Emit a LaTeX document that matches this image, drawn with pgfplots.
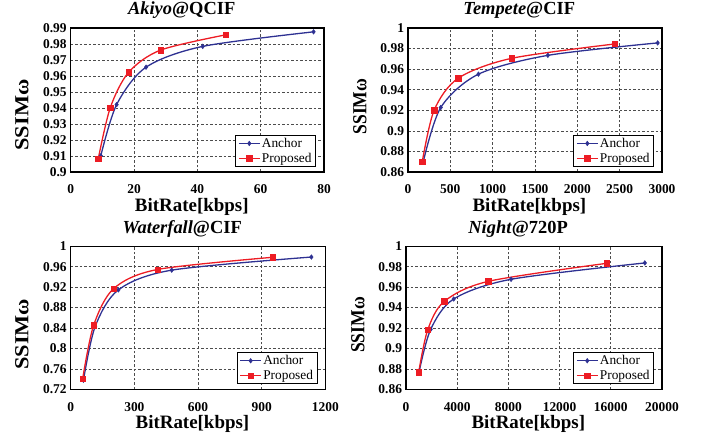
\documentclass[border=0pt]{standalone}
\usepackage{fontspec}
\setmainfont{Liberation Serif}
\usepackage{graphicx}
\usepackage{pgfplots}
\pgfplotsset{compat=1.18}
\definecolor{anc}{RGB}{46,49,146}
\definecolor{pro}{RGB}{237,28,36}
\pgfplotsset{
  myax/.style={
    scale only axis, anchor=south west,
    grid=major,
    major grid style={dash pattern=on 2.5bp off 2bp, line width=0.7bp, color=black!70},
    axis line style={line width=1.3bp},
    major tick length=0,
    tick label style={font=\fontsize{13.5}{15}\selectfont\bfseries},
    /pgf/number format/assume math mode=true,
    /pgf/number format/1000 sep={},
    scaled ticks=false,
    yticklabel style={/pgf/number format/fixed, /pgf/number format/precision=2, xshift=-0.5bp},
    xticklabel style={anchor=base, yshift=-22bp},
    title style={at={(axis description cs:0.438,1)}, anchor=base, yshift=7.3bp, font=\fontsize{18.5}{20}\selectfont\bfseries},
    xlabel style={at={(axis description cs:0.478,0)}, anchor=base, yshift=-39.5bp, font=\fontsize{19}{21}\selectfont\bfseries},
    ylabel style={anchor=base, font=\fontsize{20}{22}\selectfont\bfseries},
    xlabel={BitRate[kbps]},
    legend style={at={(axis description cs:1,0)}, anchor=south east, xshift=-8bp, yshift=5bp,
      draw=black, line width=0.8bp, fill=white, font=\fontsize{13.4}{14}\selectfont,
      inner xsep=2.5bp, inner ysep=1bp, row sep=0bp,
      nodes={inner xsep=1.5bp, inner ysep=2bp}},
    legend cell align=left,
    legend image code/.code={\draw[mark repeat=2,mark phase=2] plot coordinates {(0bp,0bp)(10.5bp,0bp)(21bp,0bp)};},
  },
  ancst/.style={color=anc, line width=1.3bp, smooth, tension=0.5, mark=diamond*, mark size=2.3bp, mark options={fill=anc, line width=0.5bp}},
  prost/.style={color=pro, line width=1.3bp, smooth, tension=0.5, mark=square*, mark size=2.7bp, mark options={fill=pro, line width=0.5bp}},
}
\begin{document}
\begin{tikzpicture}
\useasboundingbox (0,0) rectangle (706bp,438bp);
% Panel 1
\begin{axis}[myax, at={(70.7bp,266bp)}, width=253.3bp, height=144bp,
  xmin=0, xmax=80, xtick={0,20,40,60,80},
  ymin=0.9, ymax=0.99, ytick={0.9,0.91,0.92,0.93,0.94,0.95,0.96,0.97,0.98,0.99},
  title={\textit{Akiyo}@QCIF},
  ylabel={\scalebox{1.12}[1]{SSIMω}},
  ylabel style={at={([xshift=-42.4bp]axis description cs:0,0.396)}}]
\addplot[ancst] coordinates {(9.5,0.9101) (14.5,0.9421) (23.8,0.9655) (41.7,0.9785) (76.7,0.9876)};
\addplot[prost] coordinates {(8.7,0.9082) (12.5,0.9402) (18.3,0.9623) (28.4,0.9762) (48.9,0.9857)};
\legend{Anchor,Proposed}
\end{axis}
% Panel 2
\begin{axis}[myax, at={(408bp,266bp)}, width=254bp, height=144bp,
  xmin=0, xmax=3000, xtick={0,500,1000,1500,2000,2500,3000},
  ymin=0.86, ymax=1, ytick={0.86,0.88,0.9,0.92,0.94,0.96,0.98,1},
  title={\textit{Tempete}@CIF},
  ylabel={\scalebox{0.88}[1]{SSIMω}},
  ylabel style={at={([xshift=-41.7bp]axis description cs:0,0.455)}}]
\addplot[ancst] coordinates {(180,0.8700) (387,0.9227) (832,0.9551) (1652,0.9734) (2949,0.9855)};
\addplot[prost] coordinates {(168,0.8698) (309,0.9201) (594,0.9512) (1223,0.9705) (2445,0.9845)};
\legend{Anchor,Proposed}
\end{axis}
% Panel 3
\begin{axis}[myax, at={(70.7bp,48.7bp)}, width=254.7bp, height=143bp,
  xmin=0, xmax=1200, xtick={0,300,600,900,1200},
  ymin=0.72, ymax=1, ytick={0.72,0.76,0.8,0.84,0.88,0.92,0.96,1},
  title={\textit{Waterfall}@CIF},
  ylabel={\scalebox{1.12}[1]{SSIMω}},
  ylabel style={at={([xshift=-42.4bp]axis description cs:0,0.385)}}]
\addplot[ancst] coordinates {(60,0.7377) (115,0.8426) (225,0.9148) (476,0.9533) (1134,0.9790)};
\addplot[prost] coordinates {(56.5,0.7410) (108,0.8452) (203,0.9174) (409,0.9546) (952,0.9785)};
\legend{Anchor,Proposed}
\end{axis}
% Panel 4
\begin{axis}[myax, at={(406bp,48.7bp)}, width=256bp, height=143bp,
  xmin=0, xmax=20000, xtick={0,4000,8000,12000,16000,20000},
  ymin=0.86, ymax=1, ytick={0.86,0.88,0.9,0.92,0.94,0.96,0.98,1},
  title={\textit{Night}@720P},
  ylabel={\scalebox{0.88}[1]{SSIMω}},
  ylabel style={at={([xshift=-41.7bp]axis description cs:0,0.45)}}]
\addplot[ancst] coordinates {(1040,0.8780) (1928,0.9187) (3726,0.9484) (8208,0.9677) (18657,0.9837)};
\addplot[prost] coordinates {(990,0.8766) (1694,0.9181) (2997,0.9461) (6436,0.9657) (15661,0.9833)};
\legend{Anchor,Proposed}
\end{axis}
\end{tikzpicture}
\end{document}
